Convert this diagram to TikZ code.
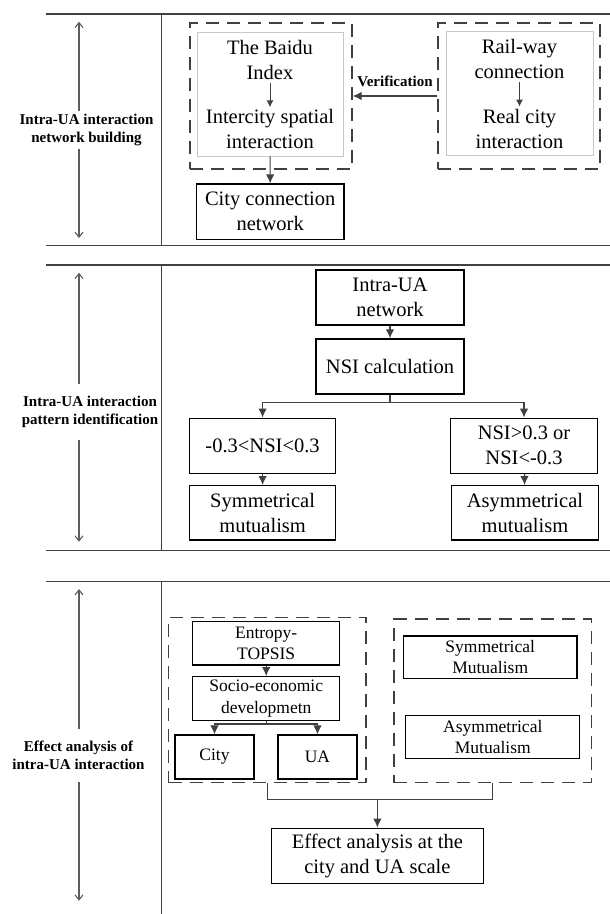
\documentclass[tikz,border=0pt]{standalone}
\usepackage{fontspec}
\setmainfont{Liberation Serif}
\usepackage{tikz}
\usetikzlibrary{arrows.meta}
\definecolor{ln}{HTML}{404040}
\definecolor{lgray}{HTML}{C8C8C8}
\tikzset{
    box/.style={draw=black, line width=1.3pt, align=center, inner sep=0pt, font=\fontsize{20.5}{25}\selectfont},
    sbox/.style={box, line width=1.2pt, font=\fontsize{17.5}{21.5}\selectfont},
    gbox/.style={draw=lgray, line width=0.8pt, inner sep=0pt},
    dbox/.style={draw=ln, line width=1.3pt, dash pattern=on 13pt off 8pt, inner sep=0pt},
    txt/.style={align=center, inner sep=0pt, font=\fontsize{20.5}{25}\selectfont},
    flow/.style={draw=ln, line width=1.2pt, -{Latex[length=9pt,width=8.5pt]}},
    side/.style={draw=ln!85, line width=1.1pt},
    lbl/.style={align=center, font=\bfseries\fontsize{15}{17.5}\selectfont, inner sep=3pt},
    frame/.style={draw=ln, line width=1.5pt}
}

\begin{document}
\begin{tikzpicture}[x=1pt, y=-1pt]
                \useasboundingbox (0,0) rectangle (610,914);

                % network building
                \draw[frame] (46,14) -- (610,14);
                \draw[frame] (46,245.7) -- (610,245.7);
                \draw[frame] (161.5,14) -- (161.5,245.7);
                \node[lbl] (lab1) at (86.5,130) {Intra-UA interaction\\network building};
                \coordinate (t1) at (79,21.7);
                \coordinate (b1) at (79,238);
                \draw[side,{Straight Barb[length=5pt,width=8pt]}-] (t1) -- (t1 |- lab1.north);
                \draw[side,-{Straight Barb[length=5pt,width=8pt]}] (b1 |- lab1.south) -- (b1);

                \node[gbox, minimum width=146pt, minimum height=124pt] (gL) at (270,94) {};
                \node[txt] (baidu) at (270,59.7) {The Baidu\\Index};
                \node[txt] (inter) at (270,129.2) {Intercity spatial\\interaction};
                \draw[flow, line width=1pt, -{Latex[length=7pt,width=7pt]}, shorten <=3pt, shorten >=2pt] (baidu) -- (inter);
                \node[dbox, minimum width=162pt, minimum height=146pt] (dL) at (271,96) {};
                \node[box, minimum width=147.5pt, minimum height=55.3pt] (ccn) at (270.2,211.7) {City connection\\network};
                \draw[flow] (gL) -- (ccn);

                \node[gbox, minimum width=147pt, minimum height=124pt] (gR) at (519.5,93) {};
                \node[txt] (rail) at (519.5,59) {Rail-way\\connection};
                \node[txt] (real) at (519.5,128.5) {Real city\\interaction};
                \draw[flow, line width=1pt, -{Latex[length=7pt,width=7pt]}, shorten <=3pt, shorten >=2pt] (rail) -- (real);
                \node[dbox, minimum width=162pt, minimum height=146pt] (dR) at (519,96) {};
                \draw[flow] (dR.west) -- node[lbl, above=6pt] {Verification} (dL.east);

                % pattern identification
                \draw[frame] (46,265) -- (610,265);
                \draw[frame] (46,550.7) -- (610,550.7);
                \draw[frame] (161.5,265) -- (161.5,550.7);
                \node[lbl, inner ysep=12pt] (lab2) at (90,412) {Intra-UA interaction\\pattern identification};
                \coordinate (t2) at (79,272.7);
                \coordinate (b2) at (79,541.7);
                \draw[side,{Straight Barb[length=5pt,width=8pt]}-] (t2) -- (t2 |- lab2.north);
                \draw[side,-{Straight Barb[length=5pt,width=8pt]}] (b2 |- lab2.south) -- (b2);

                \node[box, minimum width=148pt, minimum height=55pt] (net) at (390,297.5) {Intra-UA\\network};
                \node[box, minimum width=148pt, minimum height=55pt] (nsi) at (390,366.5) {NSI calculation};
                \node[box, minimum width=146.3pt, minimum height=55pt] (rng) at (262.6,445.7) {-0.3<NSI<0.3};
                \node[box, minimum width=146.7pt, minimum height=55pt] (out) at (524,445.7) {NSI>0.3 or\\NSI<-0.3};
                \node[box, minimum width=146.3pt, minimum height=54.3pt] (sym) at (262.6,512.8) {Symmetrical\\mutualism};
                \node[box, minimum width=147pt, minimum height=54.3pt] (asym) at (525,512.8) {Asymmetrical\\mutualism};
                \draw[flow] (net) -- (nsi);
                \draw[flow] (nsi.south) -- ++(0,7.7) -| (rng.north);
                \draw[flow] (nsi.south) -- ++(0,7.7) -| (out.north);
                \draw[flow] (rng) -- (sym);
                \draw[flow] (out) -- (asym);

                % effect analysis
                \draw[frame] (46,581.7) -- (610,581.7);
                \draw[frame] (161.5,581.7) -- (161.5,914);
                \node[lbl, inner ysep=12pt] (lab3) at (78.5,755.4) {Effect analysis of\\intra-UA interaction};
                \coordinate (t3) at (79,589);
                \coordinate (b3) at (79,900.7);
                \draw[side,{Straight Barb[length=5pt,width=8pt]}-] (t3) -- (t3 |- lab3.north);
                \draw[side,-{Straight Barb[length=5pt,width=8pt]}] (b3 |- lab3.south) -- (b3);

                \node[dbox, minimum width=197.3pt, minimum height=165.4pt] (dL3) at (267.2,700) {};
                \node[sbox, minimum width=147pt, minimum height=43.3pt] (ent) at (266.2,643.3) {Entropy-\\TOPSIS};
                \node[sbox, minimum width=147pt, minimum height=44pt] (soc) at (266.2,698.7) {Socio-economic\\developmetn};
                \node[sbox, minimum width=79pt, minimum height=44pt] (city) at (214.5,757) {City};
                \node[sbox, minimum width=79pt, minimum height=44pt] (ua) at (317.5,757) {UA};
                \draw[flow] (ent) -- (soc);
                \draw[flow] (soc.south) -- ++(0,2.6) -| (city.north);
                \draw[flow] (soc.south) -- ++(0,2.6) -| (ua.north);

                \node[dbox, minimum width=197.4pt, minimum height=163.7pt] (dR3) at (492.7,700.9) {};
                \node[sbox, minimum width=173.5pt, minimum height=42.3pt] (symM) at (490.2,657.2) {Symmetrical\\Mutualism};
                \node[sbox, minimum width=174pt, minimum height=42.6pt] (asymM) at (492.8,737) {Asymmetrical\\Mutualism};

                \node[box, minimum width=211.7pt, minimum height=55pt] (eff) at (377.4,855.8) {Effect analysis at the\\city and UA scale};
                \draw[draw=ln, line width=1.2pt] (dL3.south) -- ++(0,16.3) coordinate (jl) -| (dR3.south);
                \draw[flow] (jl -| eff.north) -- (eff.north);
            \end{tikzpicture}
\end{document}
